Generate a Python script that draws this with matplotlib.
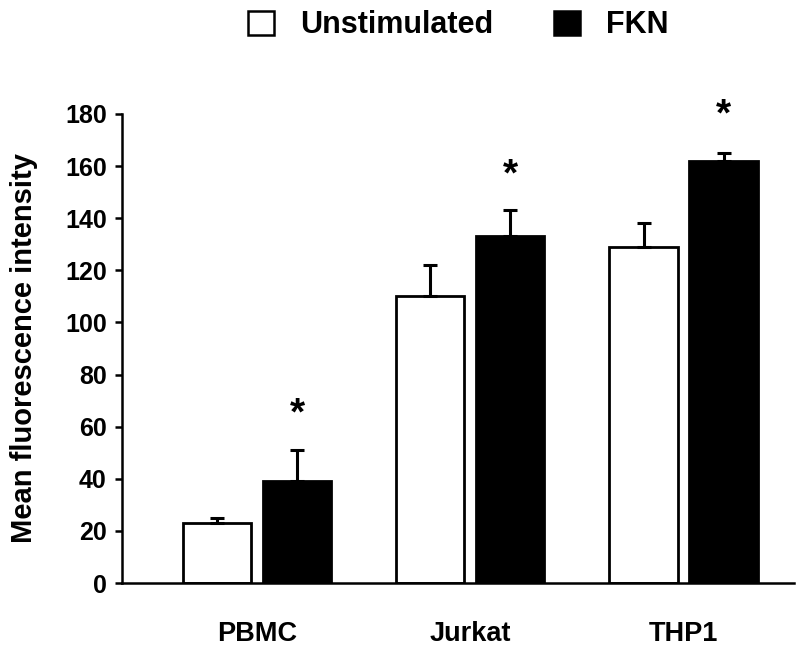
import matplotlib
matplotlib.use("Agg")
import matplotlib.pyplot as plt
from matplotlib.patches import Patch
import numpy as np

categories = ["PBMC", "Jurkat", "THP1"]
series_names = ["Unstimulated", "FKN"]
unstim = [23, 110, 129]
unstim_err = [2, 12, 9]
fkn = [39, 133, 162]
fkn_err = [12, 10, 3]
star_y = [64.5, 156.5, 179.5]
yticks = [0, 20, 40, 60, 80, 100, 120, 140, 160, 180]

plt.rcParams['font.family'] = ['Liberation Sans', 'DejaVu Sans']
plt.rcParams['font.weight'] = 'bold'

fig = plt.figure(figsize=(8, 6.48), dpi=100)
ax = fig.add_axes([0.1525, 0.1003, 0.84, 0.7238])

x = np.arange(len(categories))
w = 0.32
off = 0.1875
ekw = dict(elinewidth=2.2, capthick=2.2, ecolor='black')
ax.bar(x - off, unstim, w, color='white', edgecolor='black', linewidth=2.0,
       yerr=[np.zeros(3), unstim_err], capsize=5, error_kw=ekw, zorder=2)
ax.bar(x + off, fkn, w, color='black', edgecolor='black', linewidth=2.0,
       yerr=[np.zeros(3), fkn_err], capsize=5, error_kw=ekw, zorder=2)

for xi, sy in zip(x, star_y):
    ax.text(xi + off, sy, "*", ha='center', va='center', fontsize=28,
            fontweight='bold', clip_on=False)

ax.set_xlim(-0.633, 2.518)
ax.set_ylim(0, 180)
ax.set_yticks(yticks)
ax.set_yticklabels([str(t) for t in yticks], fontsize=18, fontweight='bold')
ax.set_xticks(x)
ax.set_xticklabels(categories, fontsize=19.5, fontweight='bold')
ax.tick_params(axis='x', length=0, pad=27)
ax.tick_params(axis='y', length=5, width=1.8, direction='out', pad=6)
for s in ['top', 'right']:
    ax.spines[s].set_visible(False)
for s in ['left', 'bottom']:
    ax.spines[s].set_linewidth(1.8)
ax.set_ylabel("Mean fluorescence intensity", fontsize=21, fontweight='bold')
ax.yaxis.set_label_coords(-0.125, 0.5)

handles = [Patch(facecolor='white', edgecolor='black', linewidth=1.8),
           Patch(facecolor='black', edgecolor='black', linewidth=1.8)]
fig.legend(handles, series_names, loc='center', bbox_to_anchor=(0.573, 0.961),
           ncol=2, frameon=False, prop={'size': 22, 'weight': 'bold'},
           handlelength=0.85, handleheight=0.85, handletextpad=0.85,
           columnspacing=2.0, borderpad=0)

fig.savefig("out.png", dpi=100)
